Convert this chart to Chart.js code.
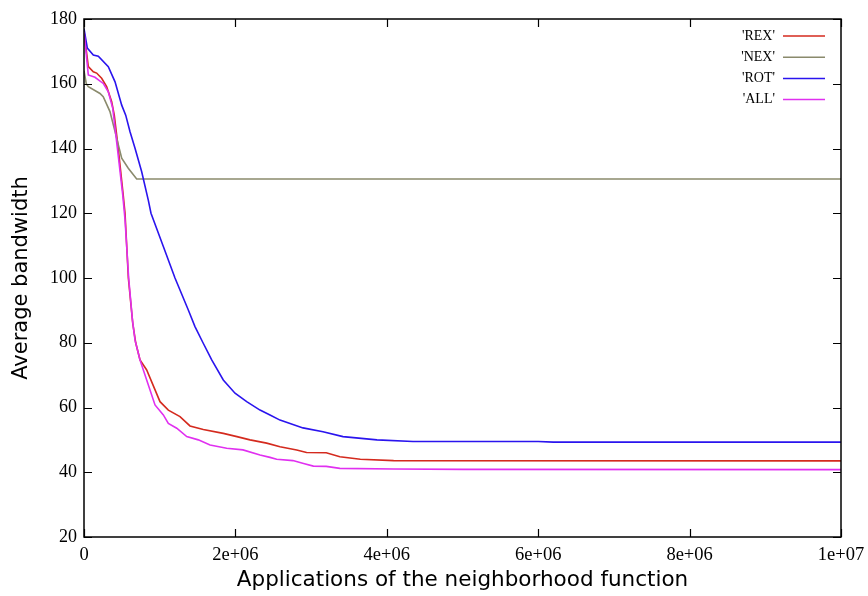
<!DOCTYPE html>
<html lang="en">
<head>
<meta charset="UTF-8">
<script src="https://cdn.jsdelivr.net/npm/chart.js"></script>
<style>
  html, body { margin: 0; padding: 0; background: #fff; }
  #wrap { width: 868px; height: 596px; }
</style>
</head>
<body>
<div id="wrap"><canvas id="bw" width="868" height="596"></canvas></div>
<script>
// values (x in millions of applications)
const seriesNames = ["'REX'", "'NEX'", "'ROT'", "'ALL'"];
const xTicks = [0, 2e6, 4e6, 6e6, 8e6, 1e7];
const yTicks = [20, 40, 60, 80, 100, 120, 140, 160, 180];

const rexX = [0, 0.057, 0.123, 0.167, 0.233, 0.299, 0.365, 0.4, 0.452, 0.518, 0.542, 0.586, 0.644, 0.683, 0.74, 0.828, 1.004, 1.114, 1.268, 1.4, 1.576, 1.84, 2.02, 2.193, 2.413, 2.589, 2.81, 2.94, 3.2, 3.38, 3.65, 4.09, 10];
const rexY = [176, 165.3, 163.7, 163.3, 161.7, 159.1, 154.5, 150.3, 140.1, 125.6, 120, 100, 86, 80, 74.7, 71.6, 61.8, 59.2, 57.2, 54.3, 53.2, 52, 51, 50, 49, 47.9, 46.9, 46.1, 46.0, 44.8, 44.0, 43.6, 43.5];

const nexX = [0, 0.03, 0.057, 0.211, 0.254, 0.343, 0.41, 0.498, 0.585, 0.696, 10];
const nexY = [164, 160, 159.1, 157, 156, 151.4, 145.2, 137, 133.9, 130.6, 130.6];

const rotX = [0, 0.044, 0.123, 0.189, 0.321, 0.41, 0.498, 0.551, 0.608, 0.674, 0.762, 0.85, 0.885, 1.048, 1.202, 1.378, 1.466, 1.572, 1.687, 1.84, 1.995, 2.149, 2.325, 2.457, 2.589, 2.893, 3.157, 3.421, 3.87, 4.346, 6.0, 6.2, 10];
const rotY = [177, 171, 168.9, 168.5, 165.3, 160.6, 153.4, 150.3, 145.2, 140.1, 132.8, 124, 120, 109.7, 100, 90.1, 85, 80, 74.7, 68.5, 64.4, 61.8, 59.2, 57.7, 56.1, 53.7, 52.5, 51.0, 50.0, 49.5, 49.5, 49.3, 49.3];

const allX = [0, 0.057, 0.145, 0.254, 0.321, 0.38, 0.441, 0.512, 0.542, 0.59, 0.64, 0.674, 0.74, 0.828, 0.938, 1.048, 1.114, 1.225, 1.357, 1.51, 1.665, 1.885, 2.1, 2.325, 2.457, 2.545, 2.76, 2.9, 3.03, 3.2, 3.38, 4.09, 5.0, 10];
const allY = [176, 162.7, 162, 160.1, 157.5, 152.4, 140.1, 125.6, 118, 100, 87, 80.8, 74.7, 68.5, 60.8, 57.7, 55.1, 53.6, 51.0, 50, 48.4, 47.4, 46.9, 45.3, 44.6, 44.0, 43.6, 42.7, 41.9, 41.8, 41.2, 41.0, 40.9, 40.8];

const colors = ['#d42a1e', '#8a8a6c', '#2a14ee', '#e030f0'];

function pts(xs, ys) {
  return xs.map((x, i) => ({ x: x * 1e6, y: ys[i] }));
}

const allSeries = [[rexX, rexY], [nexX, nexY], [rotX, rotY], [allX, allY]];
const datasets = allSeries.map((s, i) => ({
  label: seriesNames[i],
  data: pts(s[0], s[1]),
  borderColor: colors[i],
  borderWidth: 1.6,
  pointRadius: 0,
  tension: 0,
  fill: false,
  order: 3 - i
}));

function fmtX(v) {
  if (v === 0) return '0';
  const e = Math.floor(Math.log10(v));
  const m = Math.round(v / Math.pow(10, e));
  return m + 'e+' + (e < 10 ? '0' + e : e);
}

// gnuplot-like frame, inward ticks on all sides, and the key
const framePlugin = {
  id: 'frame',
  afterDraw(chart) {
    const ctx = chart.ctx;
    const a = chart.chartArea;
    const xs = chart.scales.x, ys = chart.scales.y;
    ctx.save();
    ctx.strokeStyle = '#000';
    ctx.lineWidth = 1.5;
    ctx.strokeRect(a.left, a.top, a.right - a.left, a.bottom - a.top);
    ctx.lineWidth = 1.2;
    ctx.beginPath();
    xTicks.forEach(v => {
      const px = Math.round(xs.getPixelForValue(v)) + 0.5;
      ctx.moveTo(px, a.bottom); ctx.lineTo(px, a.bottom - 8);
      ctx.moveTo(px, a.top); ctx.lineTo(px, a.top + 8);
    });
    yTicks.forEach(v => {
      const py = Math.round(ys.getPixelForValue(v)) + 0.5;
      ctx.moveTo(a.left, py); ctx.lineTo(a.left + 8, py);
      ctx.moveTo(a.right, py); ctx.lineTo(a.right - 8, py);
    });
    ctx.stroke();

    // key
    ctx.font = '14px "Liberation Serif"';
    ctx.fillStyle = '#000';
    ctx.textAlign = 'right';
    ctx.textBaseline = 'middle';
    chart.data.datasets.forEach((d, i) => {
      const y = 36 + i * 21.2;
      ctx.fillText(d.label, 775, y);
      ctx.strokeStyle = d.borderColor;
      ctx.lineWidth = 1.5;
      ctx.beginPath();
      ctx.moveTo(783, y); ctx.lineTo(825, y);
      ctx.stroke();
    });
    ctx.restore();
  }
};

new Chart(document.getElementById('bw'), {
  type: 'line',
  data: { datasets: datasets },
  options: {
    responsive: false,
    animation: false,
    layout: { padding: { top: 19, right: 27, left: 0, bottom: 0 } },
    plugins: { legend: { display: false }, tooltip: { enabled: false } },
    scales: {
      x: {
        type: 'linear',
        min: 0,
        max: 1e7,
        afterBuildTicks: s => { s.ticks = xTicks.map(v => ({ value: v })); },
        afterFit: s => { s.height = 59; s.paddingLeft = 0; s.paddingRight = 0; },
        grid: { display: false, drawTicks: false },
        border: { display: false },
        ticks: {
          maxRotation: 0,
          padding: 7,
          color: '#000',
          font: { family: '"Liberation Serif"', size: 18.5 },
          callback: v => fmtX(v)
        },
        title: {
          display: true,
          text: 'Applications of the neighborhood function',
          color: '#000',
          font: { family: '"DejaVu Sans"', size: 21.5 },
          padding: { top: 0, bottom: 3 }
        }
      },
      y: {
        min: 20,
        max: 180,
        afterBuildTicks: s => { s.ticks = yTicks.map(v => ({ value: v })); },
        afterFit: s => { s.width = 84; s.paddingTop = 0; s.paddingBottom = 0; },
        grid: { display: false, drawTicks: false },
        border: { display: false },
        ticks: {
          padding: 7,
          color: '#000',
          font: { family: '"Liberation Serif"', size: 18 }
        },
        title: {
          display: true,
          text: 'Average bandwidth',
          color: '#000',
          font: { family: '"DejaVu Sans"', size: 21 },
          padding: { top: 9, bottom: 0 }
        }
      }
    }
  },
  plugins: [framePlugin]
});
</script>
</body>
</html>
